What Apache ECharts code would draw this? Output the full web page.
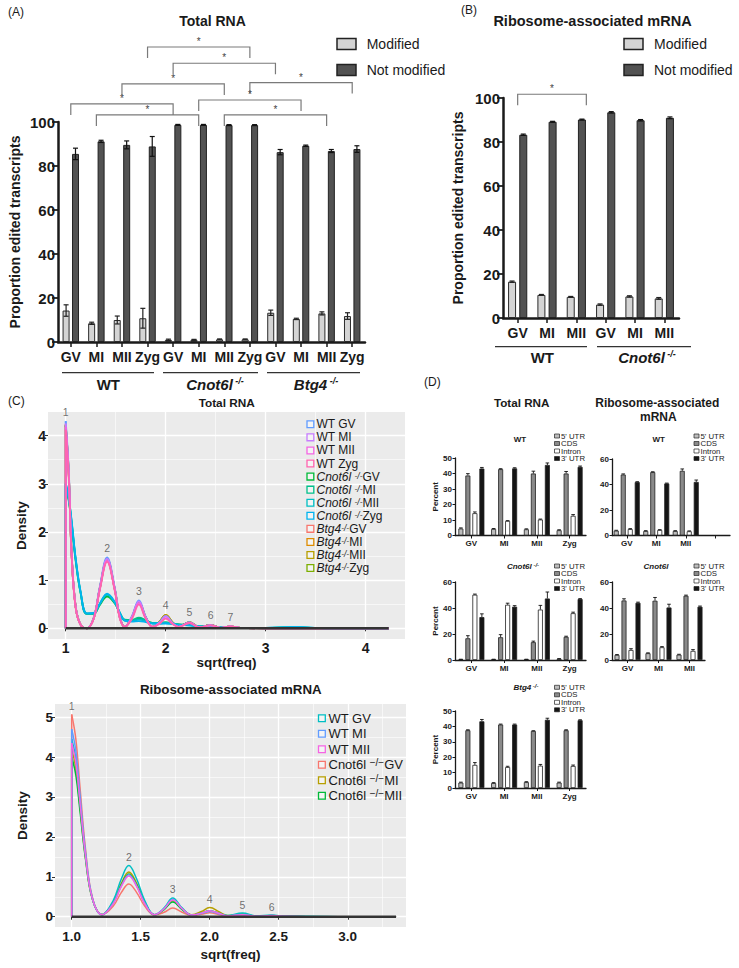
<!DOCTYPE html>
<html><head><meta charset="utf-8">
<script src="https://cdn.jsdelivr.net/npm/echarts@6/dist/echarts.min.js"></script>
<style>html,body{margin:0;padding:0;background:#fff}#c{width:739px;height:968px}</style>
</head><body><div id="c"></div>
<script>
// ---------------- DATA ----------------
// Panel A: Total RNA
const stagesA = ['GV','MI','MII','Zyg','GV','MI','MII','Zyg','GV','MI','MII','Zyg'];
const groupsA = ['WT','Cnot6l','Btg4'];
const modifiedA    = [14.3, 8.5, 10.0, 10.8, 1.0, 1.0, 1.2, 1.2, 13.3, 10.5, 13.0, 11.8];
const modifiedErrA = [2.6, 0.5, 1.8, 4.5, 0.3, 0.2, 0.2, 0.2, 1.2, 0.3, 0.7, 1.5];
const notModA      = [85.5, 91.2, 89.6, 88.9, 98.7, 98.7, 98.6, 98.6, 86.3, 89.2, 86.8, 87.7];
const notModErrA   = [2.6, 0.5, 1.8, 4.5, 0.2, 0.2, 0.2, 0.2, 1.2, 0.3, 0.7, 1.5];
// significance brackets: [from category, to category, bracket height (value units)]
const sigA = [[3,7,134.1],[4,8,126.7],[2,6,117.3],[7,11,117.9],[5,9,110.0],[0,4,108.2],[1,5,103.2],[6,10,103.2]];

// Panel B: Ribosome-associated mRNA
const stagesB = ['GV','MI','MII','GV','MI','MII'];
const groupsB = ['WT','Cnot6l'];
const modifiedB    = [16.5, 10.5, 9.6, 6.1, 9.8, 8.9];
const modifiedErrB = [0.3, 0.2, 0.2, 0.3, 0.3, 0.4];
const notModB      = [83.3, 89.2, 90.2, 93.5, 89.9, 91.0];
const notModErrB   = [0.3, 0.2, 0.2, 0.3, 0.3, 0.4];
const sigB = [[0,2,101.7]];

// Panel C (top): density of sqrt(freq), Total RNA
const XT = [1.00,1.03,1.06,1.10,1.15,1.21,1.28,1.34,1.414,1.49,1.54,1.59,1.66,1.732,1.80,1.87,1.94,2.00,2.07,2.13,2.236,2.34,2.449,2.55,2.646,2.75,3.00,3.30,3.60,4.23];
const dT_WT_GV   = [4.30,3.30,1.55,0.45,0.07,0.00,0.22,0.85,1.47,0.85,0.25,0.03,0.24,0.58,0.24,0.03,0.13,0.26,0.11,0.03,0.13,0.02,0.07,0.01,0.04,0.01,0.00,0.00,0.00,0.00];
const dT_WT_MI   = [4.25,3.25,1.52,0.44,0.07,0.00,0.21,0.83,1.44,0.83,0.24,0.03,0.23,0.56,0.23,0.03,0.12,0.25,0.10,0.03,0.12,0.02,0.06,0.01,0.04,0.01,0.00,0.00,0.00,0.00];
const dT_WT_MII  = [4.18,3.20,1.50,0.43,0.07,0.00,0.20,0.80,1.40,0.80,0.22,0.03,0.20,0.52,0.21,0.03,0.10,0.21,0.09,0.03,0.11,0.02,0.06,0.01,0.04,0.01,0.00,0.00,0.00,0.00];
const dT_WT_Zyg  = [4.12,3.15,1.48,0.42,0.07,0.00,0.20,0.79,1.38,0.79,0.22,0.03,0.19,0.49,0.20,0.03,0.10,0.20,0.09,0.03,0.11,0.02,0.06,0.01,0.04,0.01,0.00,0.00,0.00,0.00];
const dT_Cn_GV   = [2.95,2.65,2.15,1.40,0.72,0.30,0.30,0.48,0.66,0.52,0.32,0.17,0.16,0.20,0.16,0.11,0.11,0.12,0.10,0.08,0.07,0.04,0.04,0.02,0.02,0.01,0.01,0.02,0.00,0.00];
const dT_Cn_MI   = [3.00,2.70,2.20,1.43,0.74,0.31,0.31,0.50,0.70,0.54,0.33,0.18,0.17,0.22,0.17,0.11,0.11,0.12,0.10,0.08,0.07,0.04,0.04,0.02,0.02,0.01,0.01,0.02,0.00,0.00];
const dT_Cn_MII  = [2.98,2.68,2.18,1.42,0.73,0.30,0.31,0.50,0.70,0.53,0.32,0.16,0.15,0.18,0.15,0.10,0.10,0.11,0.09,0.07,0.06,0.04,0.03,0.02,0.02,0.01,0.01,0.03,0.00,0.00];
const dT_Cn_Zyg  = [3.02,2.72,2.22,1.45,0.75,0.31,0.32,0.51,0.72,0.55,0.33,0.16,0.14,0.15,0.13,0.10,0.10,0.10,0.09,0.07,0.06,0.04,0.03,0.02,0.02,0.01,0.01,0.03,0.00,0.00];
const dT_Bt_GV   = [4.24,3.25,1.52,0.44,0.07,0.00,0.21,0.83,1.44,0.83,0.24,0.03,0.23,0.55,0.23,0.03,0.14,0.27,0.11,0.03,0.13,0.02,0.07,0.01,0.04,0.01,0.00,0.00,0.00,0.00];
const dT_Bt_MI   = [4.22,3.24,1.51,0.44,0.07,0.00,0.21,0.82,1.43,0.82,0.24,0.03,0.22,0.55,0.23,0.03,0.14,0.28,0.12,0.03,0.13,0.02,0.07,0.01,0.04,0.01,0.00,0.00,0.00,0.00];
const dT_Bt_MII  = [4.20,3.22,1.50,0.43,0.07,0.00,0.21,0.81,1.41,0.81,0.23,0.03,0.22,0.54,0.22,0.03,0.14,0.28,0.12,0.03,0.13,0.02,0.07,0.01,0.04,0.01,0.00,0.00,0.00,0.00];
const dT_Bt_Zyg  = [4.22,3.24,1.51,0.44,0.07,0.00,0.21,0.82,1.43,0.82,0.24,0.03,0.22,0.55,0.23,0.03,0.13,0.26,0.11,0.03,0.13,0.02,0.07,0.01,0.04,0.01,0.00,0.00,0.00,0.00];
const peaksTop = [[1.0,4.30],[1.414,1.47],[1.732,0.58],[2.0,0.28],[2.236,0.14],[2.449,0.07],[2.646,0.04]];
const baseTop = [1.0, 4.23];
const ticksTopX = [1,2,3,4], minorTopX = [1.5,2.5,3.5];
const ticksTopY = [0,1,2,3,4], minorTopY = [0.5,1.5,2.5,3.5];

// Panel C (bottom): Ribosome-associated mRNA
const XB = [1.00,1.03,1.06,1.10,1.15,1.22,1.30,1.36,1.414,1.47,1.53,1.60,1.67,1.732,1.80,1.87,1.94,2.00,2.07,2.13,2.236,2.34,2.449,2.55,2.70,3.00,3.35];
const dB_WT_GV  = [4.45,3.95,2.90,1.55,0.45,0.05,0.40,0.95,1.28,0.95,0.40,0.05,0.22,0.47,0.22,0.04,0.09,0.15,0.08,0.03,0.09,0.02,0.04,0.01,0.01,0.00,0.00];
const dB_WT_MI  = [4.70,4.15,3.05,1.62,0.47,0.05,0.33,0.78,1.05,0.78,0.33,0.05,0.20,0.43,0.20,0.04,0.08,0.13,0.07,0.02,0.05,0.01,0.03,0.01,0.00,0.00,0.00];
const dB_WT_MII = [4.35,3.85,2.85,1.52,0.45,0.05,0.32,0.76,1.02,0.76,0.32,0.05,0.20,0.42,0.20,0.04,0.09,0.15,0.08,0.02,0.05,0.01,0.03,0.01,0.00,0.00,0.00];
const dB_Cn_GV  = [5.07,4.45,3.25,1.70,0.48,0.05,0.26,0.61,0.82,0.61,0.26,0.04,0.11,0.22,0.11,0.03,0.06,0.10,0.05,0.02,0.03,0.01,0.02,0.00,0.00,0.00,0.00];
const dB_Cn_MI  = [4.20,3.72,2.75,1.48,0.44,0.05,0.35,0.84,1.12,0.84,0.35,0.05,0.19,0.40,0.19,0.05,0.13,0.23,0.12,0.03,0.06,0.01,0.03,0.01,0.00,0.00,0.00];
const dB_Cn_MII = [4.00,3.55,2.65,1.45,0.44,0.05,0.34,0.80,1.07,0.80,0.34,0.05,0.18,0.37,0.18,0.04,0.09,0.15,0.08,0.02,0.06,0.01,0.03,0.01,0.00,0.00,0.00];
const peaksBot = [[1.0,5.07],[1.414,1.28],[1.732,0.47],[2.0,0.23],[2.236,0.09],[2.449,0.04]];
const baseBot = [1.0, 3.35];
const ticksBotX = [1,1.5,2,2.5,3], minorBotX = [1.25,1.75,2.25,2.75,3.25];
const ticksBotY = [0,1,2,3,4,5], minorBotY = [0.5,1.5,2.5,3.5,4.5];

// Panel D: percent of edits per region; rows = 5'UTR, CDS, Intron, 3'UTR
const regions = ["5' UTR", 'CDS', 'Intron', "3' UTR"];
const stages4 = ['GV','MI','MII','Zyg'];
const stages3 = ['GV','MI','MII',''];
const stages3b = ['GV','MI','MII'];
const dTotWT     = [[4.5,4.2,4.0,3.4],[38.7,42.8,40.0,40.0],[14.4,9.4,10.3,12.7],[43.2,43.3,45.5,44.3]];
const dTotWTErr  = [[0.4,0.3,0.3,0.3],[1.2,0.3,1.5,1.3],[0.8,0.2,0.3,0.8],[0.7,0.4,1.3,0.5]];
const dRibWT     = [[3.8,3.5,3.5],[47.8,49.7,50.7],[5.0,4.3,3.3],[41.9,40.8,42.0]];
const dRibWTErr  = [[0.3,0.3,0.3],[0.5,0.3,1.5],[0.4,0.3,0.3],[0.3,0.3,1.5]];
const dTotCn     = [[0.5,0.5,0.5,1.0],[16.7,17.5,13.7,17.8],[50.2,42.5,38.8,36.0],[33.0,41.0,47.3,46.9]];
const dTotCnErr  = [[0.1,0.1,0.1,0.1],[2.0,2.0,0.8,0.5],[0.5,1.2,3.2,0.8],[2.5,0.8,5.0,0.3]];
const dRibCn     = [[3.9,5.2,4.1],[45.8,45.6,49.4],[7.7,9.8,7.0],[44.0,40.4,41.0]];
const dRibCnErr  = [[0.3,0.3,0.3],[1.3,2.5,0.5],[1.0,0.5,1.0],[0.5,2.5,0.5]];
const dTotBt     = [[3.5,3.2,3.8,3.5],[37.5,41.2,37.0,37.5],[15.0,13.6,14.5,14.3],[43.3,41.2,44.3,44.0]];
const dTotBtErr  = [[0.3,0.3,0.3,0.3],[0.3,0.3,0.2,0.3],[1.5,0.5,0.8,0.6],[1.2,0.3,1.0,0.3]];

// ---------------- CHART ----------------
const FF = 'Liberation Sans, Arial, Helvetica, sans-serif';
const INK = '#1a1a1a';
const chart = echarts.init(document.getElementById('c'), null, {renderer: 'svg', width: 739, height: 968});

const grids = [
  {left: 58, top: 122, width: 307, height: 220},
  {left: 503, top: 98, width: 176, height: 220},
  {left: 48, top: 412, width: 357, height: 227, show: true, backgroundColor: '#EBEBEB', borderWidth: 0},
  {left: 55, top: 704, width: 351, height: 223, show: true, backgroundColor: '#EBEBEB', borderWidth: 0},
  {left: 455, top: 458, width: 131, height: 77.5},
  {left: 612, top: 459, width: 118, height: 76.5},
  {left: 455, top: 582, width: 131, height: 78},
  {left: 612, top: 582, width: 93, height: 78},
  {left: 455, top: 711, width: 131, height: 77}
].map(g => Object.assign({outerBoundsMode: 'none', containLabel: false}, g));

const xAxes = [], yAxes = [], series = [];
const txtStyle = (size, bold) => ({color: INK, fontFamily: FF, fontSize: size, fontWeight: bold ? 'bold' : 'normal'});

function barAxisX(gi, cats, fmt, size, lw, tickLen, margin) {
  return {gridIndex: gi, type: 'category', data: cats,
    axisLine: {show: true, lineStyle: {color: INK, width: lw}},
    axisTick: {show: true, alignWithLabel: true, length: tickLen, lineStyle: {color: INK, width: Math.max(1, lw * 0.6)}},
    axisLabel: Object.assign({interval: 0, margin: margin, formatter: fmt}, txtStyle(size, true)),
    splitLine: {show: false}};
}
function barAxisY(gi, max, interval, size, lw, tickLen, name, nameSize, nameGap) {
  const a = {gridIndex: gi, type: 'value', min: 0, max: max, interval: interval,
    axisLine: {show: true, lineStyle: {color: INK, width: lw}},
    axisTick: {show: true, length: tickLen, lineStyle: {color: INK, width: Math.max(1, lw * 0.7)}},
    axisLabel: Object.assign({margin: 3}, txtStyle(size, true)),
    splitLine: {show: false}};
  if (name) {
    a.name = name; a.nameLocation = 'middle'; a.nameGap = nameGap; a.nameRotate = 90;
    a.nameTextStyle = txtStyle(nameSize, true);
  }
  return a;
}

// error-bar renderer (custom series)
function errRender(offsetPx, capHalf, both, color, lw) {
  return function (params, api) {
    const i = api.value(0), v = api.value(1), e = api.value(2);
    const top = api.coord([i, v + e]);
    const bot = api.coord([i, both ? v - e : v]);
    const x = top[0] + offsetPx;
    const st = {stroke: color, lineWidth: lw};
    const ch = [
      {type: 'line', shape: {x1: x, y1: top[1], x2: x, y2: bot[1]}, style: st},
      {type: 'line', shape: {x1: x - capHalf, y1: top[1], x2: x + capHalf, y2: top[1]}, style: st}
    ];
    if (both) ch.push({type: 'line', shape: {x1: x - capHalf, y1: bot[1], x2: x + capHalf, y2: bot[1]}, style: st});
    return {type: 'group', children: ch};
  };
}
function errSeries(gi, vals, errs, offsetPx, capHalf, both, color, lw) {
  return {type: 'custom', xAxisIndex: gi, yAxisIndex: gi, z: 5, silent: true, itemStyle: {color: color},
    data: vals.map((v, i) => [i, v, errs[i]]), encode: {x: 0, y: 1},
    renderItem: errRender(offsetPx, capHalf, both, color, lw)};
}
function bracketSeries(axIdx, rows, leg, rightNudge) {
  return {type: 'custom', xAxisIndex: axIdx, yAxisIndex: axIdx, z: 6, silent: true, clip: false,
    itemStyle: {color: '#7a7a7a'},
    data: rows, encode: {x: [0, 1], y: 2},
    renderItem: function (params, api) {
      const a = api.coord([api.value(0), api.value(2)]);
      const b = api.coord([api.value(1), api.value(2)]);
      const bx = b[0] + (rightNudge || 0);
      return {type: 'polyline', shape: {points: [[a[0], a[1] + leg], [a[0], a[1]], [bx, b[1]], [bx, b[1] + leg]]},
          style: {stroke: '#7a7a7a', lineWidth: 1.2, fill: null}};
    }};
}

// ---- Panel A (axis index 0)
const catKeysA = stagesA.map((s, i) => groupsA[Math.floor(i / 4)] + ' ' + s);
xAxes.push(barAxisX(0, catKeysA, v => v.split(' ')[1], 14, 2.5, 5, 8));
yAxes.push(barAxisY(0, 100, 20, 15, 2.5, 6, 'Proportion edited transcripts', 14, 36));
series.push({name: 'Modified', type: 'bar', xAxisIndex: 0, yAxisIndex: 0, data: modifiedA, barWidth: 7, barGap: '35%',
  itemStyle: {color: '#d4d4d4', borderColor: '#2a2a2a', borderWidth: 1}});
series.push({name: 'Not modified', type: 'bar', xAxisIndex: 0, yAxisIndex: 0, data: notModA, barWidth: 7, barGap: '35%',
  itemStyle: {color: '#525252', borderColor: '#222', borderWidth: 1}});
series.push(errSeries(0, modifiedA, modifiedErrA, -4.7, 2.5, true, '#222222', 1.2));
series.push(errSeries(0, notModA, notModErrA, 4.7, 2.5, true, '#111111', 1.2));
series.push(bracketSeries(0, sigA, 11, 0));

// ---- Panel B (axis index 1)
const catKeysB = stagesB.map((s, i) => groupsB[Math.floor(i / 3)] + ' ' + s);
xAxes.push(barAxisX(1, catKeysB, v => v.split(' ')[1], 14, 2.5, 5, 8));
yAxes.push(barAxisY(1, 100, 20, 15, 2.5, 6, 'Proportion edited transcripts', 14, 38));
series.push({name: 'Modified ', type: 'bar', xAxisIndex: 1, yAxisIndex: 1, data: modifiedB, barWidth: 8, barGap: '40%',
  itemStyle: {color: '#d4d4d4', borderColor: '#2a2a2a', borderWidth: 1}});
series.push({name: 'Not modified ', type: 'bar', xAxisIndex: 1, yAxisIndex: 1, data: notModB, barWidth: 8, barGap: '40%',
  itemStyle: {color: '#525252', borderColor: '#222', borderWidth: 1}});
series.push(errSeries(1, modifiedB, modifiedErrB, -5.6, 2.5, true, '#222222', 1.2));
series.push(errSeries(1, notModB, notModErrB, 5.6, 2.5, true, '#111111', 1.2));
const B_NUDGE = 10;
series.push(bracketSeries(1, sigB, 11, B_NUDGE));

// ---- Panel C axes (indices 2..5)
function ggAxis(gi, dir, min, max, majors, minors, fmt, name, nameGap, labelSize) {
  const major = {gridIndex: gi, type: 'value', min: min, max: max,
    axisLine: {show: false},
    axisTick: {show: true, customValues: majors, length: 3, lineStyle: {color: '#333', width: 1}},
    axisLabel: Object.assign({customValues: majors, margin: 2, formatter: fmt}, txtStyle(labelSize, true)),
    splitLine: {show: true, lineStyle: {color: '#ffffff', width: 1.3}},
    name: name, nameLocation: 'middle', nameGap: nameGap,
    nameTextStyle: txtStyle(13.5, true)};
  if (dir === 'y') major.nameRotate = 90;
  const minor = {gridIndex: gi, type: 'value', min: min, max: max,
    axisLine: {show: false}, axisLabel: {show: false},
    axisTick: {show: false, customValues: minors},
    splitLine: {show: true, lineStyle: {color: '#ffffff', width: 0.6}}};
  return [major, minor];
}
const ctx = ggAxis(2, 'x', 0.823, 4.393, ticksTopX, minorTopX, v => String(v), 'sqrt(freq)', 16, 14);
const cty = ggAxis(2, 'y', -0.222, 4.49, ticksTopY, minorTopY, v => String(v), 'Density', 20, 14);
xAxes.push(ctx[0], ctx[1]); yAxes.push(cty[0], cty[1]);
const cbx = ggAxis(3, 'x', 0.879, 3.422, ticksBotX, minorBotX, v => v.toFixed(1), 'sqrt(freq)', 20, 13.5);
const cby = ggAxis(3, 'y', -0.258, 5.33, ticksBotY, minorBotY, v => String(v), 'Density', 26, 13.5);
xAxes.push(cbx[0], cbx[1]); yAxes.push(cby[0], cby[1]);

function curve(name, xs, ys, color, ax, width) {
  series.push({name: name + ' rise', type: 'line', xAxisIndex: ax, yAxisIndex: ax, symbol: 'none', silent: true, z: 2,
    data: [[xs[0], 0], [xs[0], ys[0]]], lineStyle: {color: color, width: width}});
  series.push({name: name, type: 'line', xAxisIndex: ax, yAxisIndex: ax, symbol: 'none', showSymbol: false, silent: true, z: 2,
    smooth: 0.4, data: xs.map((x, i) => [x, ys[i]]), lineStyle: {color: color, width: width}, itemStyle: {color: color}});
}
// top: draw order Btg4, Cnot6l, WT
const topCurves = [
  ['Btg4-/- GV', dT_Bt_GV, '#F8766D'], ['Btg4-/- MI', dT_Bt_MI, '#DE8C00'], ['Btg4-/- MII', dT_Bt_MII, '#B79F00'], ['Btg4-/- Zyg', dT_Bt_Zyg, '#7CAE00'],
  ['Cnot6l-/- GV', dT_Cn_GV, '#00BA38'], ['Cnot6l-/- MI', dT_Cn_MI, '#00C08B'], ['Cnot6l-/- MII', dT_Cn_MII, '#00BFC4'], ['Cnot6l-/- Zyg', dT_Cn_Zyg, '#00B4F0'],
  ['WT GV', dT_WT_GV, '#619CFF'], ['WT MI', dT_WT_MI, '#C77CFF'], ['WT MII', dT_WT_MII, '#F564E3'], ['WT Zyg', dT_WT_Zyg, '#FF64B0']
];
topCurves.forEach(c => curve(c[0], XT, c[1], c[2], 2, 1.8));
series.push({name: 'baseline top', type: 'line', xAxisIndex: 2, yAxisIndex: 2, symbol: 'none', silent: true, z: 4,
  data: baseTop.map(x => [x, 0]), lineStyle: {color: '#333', width: 2.6}});
series.push({name: 'peaks top', type: 'scatter', xAxisIndex: 2, yAxisIndex: 2, symbolSize: 0, silent: true, z: 5, data: peaksTop,
  itemStyle: {color: '#4d4d4d'},
  label: {show: true, position: 'top', distance: 4, formatter: p => String(p.dataIndex + 1), color: '#4d4d4d', fontSize: 10.5, fontFamily: FF}});

const botCurves = [
  ['Cnot6l-/- GV', dB_Cn_GV, '#F8766D'], ['Cnot6l-/- MI', dB_Cn_MI, '#B79F00'], ['Cnot6l-/- MII', dB_Cn_MII, '#00BA38'],
  ['WT GV', dB_WT_GV, '#00BFC4'], ['WT MI', dB_WT_MI, '#619CFF'], ['WT MII', dB_WT_MII, '#F564E3']
];
botCurves.forEach(c => curve(c[0] + ' (ribo)', XB, c[1], c[2], 4, 1.5));
series.push({name: 'baseline bottom', type: 'line', xAxisIndex: 4, yAxisIndex: 4, symbol: 'none', silent: true, z: 4,
  data: baseBot.map(x => [x, 0]), lineStyle: {color: '#333', width: 2.6}});
series.push({name: 'peaks bottom', type: 'scatter', xAxisIndex: 4, yAxisIndex: 4, symbolSize: 0, silent: true, z: 5, data: peaksBot,
  itemStyle: {color: '#4d4d4d'},
  label: {show: true, position: 'top', distance: 3, formatter: p => String(p.dataIndex + 1), color: '#4d4d4d', fontSize: 10.5, fontFamily: FF}});

// ---- Panel D (axis indices 6..10)
const regionFill = ['#bdbdbd', '#8a8a8a', '#ffffff', '#151515'];
function dPanel(ax, cats, max, interval, vals, errs, withName) {
  const xa = barAxisX(ax - 2, cats, v => v, 8, 1.3, 3, 4);
  xAxes.push(xa);
  yAxes.push(barAxisY(ax - 2, max, interval, 8, 1.3, 2.5, withName ? 'Percent' : null, 8, 14));
  vals.forEach((row, r) => {
    series.push({name: regions[r], type: 'bar', xAxisIndex: ax, yAxisIndex: ax, data: row, barWidth: 5, barGap: '40%',
      itemStyle: {color: regionFill[r], borderColor: '#222', borderWidth: 0.8}});
    series.push(errSeries(ax, row, errs[r], (r - 1.5) * 7, 1.8, false, '#111111', 0.9));
  });
}
dPanel(6, stages4, 50, 10, dTotWT, dTotWTErr, true);
dPanel(7, stages3, 60, 20, dRibWT, dRibWTErr, false);
dPanel(8, stages4, 60, 20, dTotCn, dTotCnErr, true);
dPanel(9, stages3b, 60, 20, dRibCn, dRibCnErr, false);
dPanel(10, stages4, 50, 10, dTotBt, dTotBtErr, true);

// ---------------- GRAPHIC (titles, legends, group labels) ----------------
const G = [];
function T(x, y, text, size, o) {
  o = o || {};
  const al = o.align || 'center';
  const st = {text: text, fill: o.color || INK, fontSize: size, fontFamily: FF,
      fontWeight: o.bold ? 'bold' : 'normal', fontStyle: o.italic ? 'italic' : 'normal',
      align: al, verticalAlign: o.valign || 'middle'};
  if (o.rich) st.rich = o.rich;
  if (o.lh) st.lineHeight = o.lh;
  G.push({type: 'text', x: x, y: y, rotation: o.rot || 0, silent: true, z: 100, style: st});
}
function R(x, y, w, h, fill, stroke, lw) {
  G.push({type: 'rect', silent: true, z: 100, shape: {x: x, y: y, width: w, height: h}, style: {fill: fill, stroke: stroke, lineWidth: lw}});
}
function L(x1, y1, x2, y2, lw, col) {
  G.push({type: 'line', silent: true, z: 100, shape: {x1: x1, y1: y1, x2: x2, y2: y2}, style: {stroke: col || '#333', lineWidth: lw}});
}
function supRich(size, supSize, italic, bold, lh) {
  const base = {fontFamily: FF, fill: INK, lineHeight: lh || size + 1};
  return {
    i: Object.assign({fontSize: size, fontStyle: italic ? 'italic' : 'normal', fontWeight: bold ? 'bold' : 'normal'}, base),
    n: Object.assign({fontSize: size, fontWeight: bold ? 'bold' : 'normal'}, base),
    s: Object.assign({fontSize: supSize, fontStyle: italic ? 'italic' : 'normal', fontWeight: bold ? 'bold' : 'normal', verticalAlign: 'top'}, base)
  };
}

// Panel labels
T(8, 12, '(A)', 12, {align: 'left'});
T(461, 10, '(B)', 12, {align: 'left'});
T(8, 401, '(C)', 12, {align: 'left'});
T(424, 382, '(D)', 12, {align: 'left'});

// Panel A/B titles & legends
T(212.5, 20.5, 'Total RNA', 14, {bold: true});
T(592.5, 20.5, 'Ribosome-associated mRNA', 14.5, {bold: true});
R(337, 38.5, 19, 11, '#d4d4d4', '#222', 1.5); T(366.7, 44.3, 'Modified', 14, {align: 'left'});
R(337, 64.5, 19, 11, '#525252', '#222', 1.5); T(366.7, 70.3, 'Not modified', 14, {align: 'left'});
R(624, 38.5, 19, 11, '#d4d4d4', '#222', 1.5); T(654, 44.3, 'Modified', 14, {align: 'left'});
R(624, 64.5, 19, 11, '#525252', '#222', 1.5); T(654, 70.3, 'Not modified', 14, {align: 'left'});

// A group lines/labels
L(62, 372.7, 154, 372.7, 1.2); L(163, 372.7, 258, 372.7, 1.2); L(267, 372.7, 360, 372.7, 1.2);
T(108.3, 384, 'WT', 15, {bold: true});
T(215, 384, '{i|Cnot6l}{s| -/-}', 15, {rich: supRich(15, 9, true, true, 16)});
T(316, 384, '{i|Btg4}{s| -/-}', 15, {rich: supRich(15, 9, true, true, 16)});
// B group lines/labels
L(495, 346.7, 587, 346.7, 1.2); L(597, 346.7, 691, 346.7, 1.2);
T(542.3, 357.5, 'WT', 15, {bold: true});
T(647, 357.5, '{i|Cnot6l}{s| -/-}', 15, {rich: supRich(15, 9, true, true, 16)});

// C titles
T(226.7, 403.3, 'Total RNA', 11.8, {bold: true});
T(230.8, 689.3, 'Ribosome-associated mRNA', 13.3, {bold: true});

// C top legend
const legTop = [
  ['WT GV', '#619CFF', null], ['WT MI', '#C77CFF', null], ['WT MII', '#F564E3', null], ['WT Zyg', '#FF64B0', null],
  ['GV', '#00BA38', 'Cnot6l '], ['MI', '#00C08B', 'Cnot6l '], ['MII', '#00BFC4', 'Cnot6l '], ['Zyg', '#00B4F0', 'Cnot6l '],
  ['GV', '#F8766D', 'Btg4'], ['MI', '#DE8C00', 'Btg4'], ['MII', '#B79F00', 'Btg4'], ['Zyg', '#7CAE00', 'Btg4']
];
legTop.forEach((it, k) => {
  const y = 424.3 + k * 13.07;
  R(307, y - 3.4, 6.8, 6.8, '#F4F4F4', it[1], 1.3);
  if (it[2]) T(316.5, y, '{i|' + it[2] + '}{s|-/-}{n|' + it[0] + '}', 12, {align: 'left', rich: supRich(12, 8.5, true, false, 11)});
  else T(316.5, y, it[0], 12, {align: 'left', lh: 11});
});
// C bottom legend
const legBot = [
  ['WT GV', '#00BFC4', false], ['WT MI', '#619CFF', false], ['WT MII', '#F564E3', false],
  ['GV', '#F8766D', true], ['MI', '#B79F00', true], ['MII', '#00BA38', true]
];
legBot.forEach((it, k) => {
  const y = 718.3 + k * 15.48;
  R(318.5, y - 3.4, 6.8, 6.8, '#F4F4F4', it[1], 1.3);
  if (it[2]) T(328.5, y, '{n|Cnot6l }{s|\u2212/\u2212}{n|' + it[0] + '}', 13, {align: 'left', rich: supRich(13, 10, false, false, 14)});
  else T(328.5, y, it[0], 13, {align: 'left', lh: 14});
});

// D titles
T(521.7, 402.7, 'Total RNA', 11.7, {bold: true});
T(657.3, 402.7, 'Ribosome-associated', 12, {bold: true, lh: 13});
T(658.3, 416.7, 'mRNA', 12, {bold: true, lh: 13});
// D subtitles
T(520, 439, 'WT', 8, {bold: true});
T(658.7, 439, 'WT', 8, {bold: true});
T(523, 566, '{i|Cnot6l}{s| -/-}', 8, {rich: supRich(8, 6, true, true, 9)});
T(656, 566, 'Cnot6l', 8, {bold: true, italic: true});
T(526, 687.3, '{i|Btg4}{s| -/-}', 8, {rich: supRich(8, 6, true, true, 9)});
// D legends
function dLegend(bx, y0) {
  regions.forEach((r, k) => {
    const y = y0 + k * 7.5;
    R(bx, y - 2, 5, 4, regionFill[k], '#222', 0.7);
    T(bx + 6.5, y, r, 7.8, {align: 'left', lh: 7});
  });
}
dLegend(554.5, 436); dLegend(694, 436); dLegend(554.5, 566); dLegend(694, 566); dLegend(554.5, 687.3);

chart.setOption({
  animation: false,
  textStyle: {fontFamily: FF},
  grid: grids,
  xAxis: xAxes,
  yAxis: yAxes,
  series: series,
  graphic: {elements: G}
});

// significance stars, placed at the middle of each bracket via the axes' own scales
function addStars(axIdx, rows, nudge) {
  rows.forEach(r => {
    const a = chart.convertToPixel({xAxisIndex: axIdx, yAxisIndex: axIdx}, [r[0], r[2]]);
    const b = chart.convertToPixel({xAxisIndex: axIdx, yAxisIndex: axIdx}, [r[1], r[2]]);
    if (!a || !b) return;
    T((a[0] + b[0] + nudge) / 2, a[1] - 0.5, '*', 10, {color: '#444444', valign: 'bottom'});
  });
}
addStars(0, sigA, 0);
addStars(1, sigB, B_NUDGE);
chart.setOption({graphic: {elements: G}});
</script></body></html>
